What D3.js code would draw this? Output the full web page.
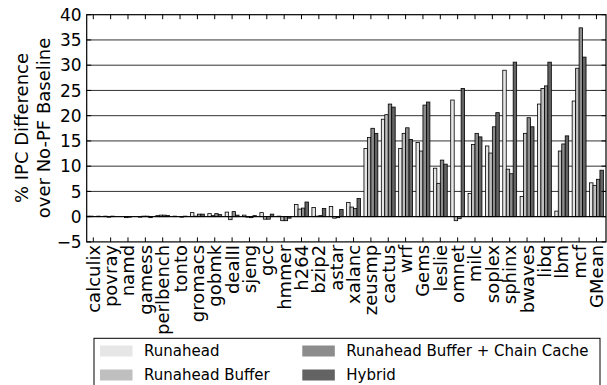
<!DOCTYPE html>
<html><head><meta charset="utf-8">
<script src="https://cdn.jsdelivr.net/npm/d3@7"></script>
<style>body{margin:0;background:#fff}svg{display:block}text{font-family:"DejaVu Sans",sans-serif}</style>
</head><body><svg id="c" width="607" height="385"></svg>
<script>
const categories = ["calculix","povray","namd","gamess","perlbench","tonto","gromacs","gobmk","dealII","sjeng","gcc","hmmer","h264","bzip2","astar","xalanc","zeusmp","cactus","wrf","Gems","leslie","omnet","milc","soplex","sphinx","bwaves","libq","lbm","mcf","GMean"];
const seriesNames = ["Runahead","Runahead Buffer","Runahead Buffer + Chain Cache","Hybrid"];
const runahead       = [0.1,0.1,0.0,-0.1,0.2,0.1,0.8,0.6,0.9,0.3,0.8,0.1,2.4,1.8,2.0,2.8,13.5,19.3,13.5,14.7,9.6,23.1,4.6,14.0,29.0,4.0,22.3,1.1,22.9,6.7];
const runaheadBuffer = [0.1,-0.1,-0.2,0.1,0.3,0.0,0.1,0.2,-0.6,-0.1,-0.5,-0.8,1.5,0.1,-0.3,1.9,15.7,20.2,16.5,13.0,6.6,-0.8,14.3,12.6,9.4,16.5,25.4,13.0,29.4,6.2];
const chainCache     = [0.0,0.1,-0.1,0.1,0.3,-0.1,0.5,0.6,1.0,-0.2,-0.5,-0.8,1.7,0.2,-0.2,1.6,17.5,22.3,17.6,22.1,11.2,-0.4,16.5,17.8,8.5,19.6,25.9,14.4,37.4,7.4];
const hybrid         = [0.1,0.0,0.0,-0.2,0.2,0.1,0.5,0.4,0.3,0.2,0.5,-0.3,2.9,1.6,1.4,3.6,16.5,21.7,15.3,22.7,10.4,25.4,15.8,20.6,30.6,17.8,30.6,16.0,31.6,9.2];
const yTicks = [-5,0,5,10,15,20,25,30,35,40];
const colors = ["#e6e6e6","#bfbfbf","#8c8c8c","#636363"];

const series = [runahead, runaheadBuffer, chainCache, hybrid];
const svg = d3.select("#c");
const L = 86.7, R = 606, T = 14.7, B = 241.9;
const x = d3.scaleLinear().domain([-0.38, 29.55]).range([L, R]);
const y = d3.scaleLinear().domain([-5, 40]).range([B, T]);
const bw = 0.2;

// gridlines
svg.append("g").selectAll("line").data(yTicks.filter(d => d > -5 && d < 40)).join("line")
  .attr("x1", L).attr("x2", R).attr("y1", d => y(d)).attr("y2", d => y(d))
  .attr("stroke", "#333").attr("stroke-width", 1);

// bars
series.forEach((vals, k) => {
  svg.append("g").selectAll("rect").data(vals).join("rect")
    .attr("x", (d, i) => x(i - 0.4 + k * bw))
    .attr("width", x(bw) - x(0))
    .attr("y", d => y(Math.max(0, d)))
    .attr("height", d => Math.abs(y(d) - y(0)))
    .attr("fill", colors[k]).attr("stroke", "#000").attr("stroke-width", 0.8);
});

// zero line over bars
svg.append("line").attr("x1", L).attr("x2", R).attr("y1", y(0)).attr("y2", y(0))
  .attr("stroke", "#000").attr("stroke-width", 1);

// frame
svg.append("rect").attr("x", L).attr("y", T).attr("width", R - L).attr("height", B - T)
  .attr("fill", "none").attr("stroke", "#000").attr("stroke-width", 1.2);

// x ticks top & bottom
const idx = d3.range(categories.length);
svg.append("g").selectAll("line").data(idx).join("line")
  .attr("x1", d => x(d)).attr("x2", d => x(d)).attr("y1", T).attr("y2", T + 4.5)
  .attr("stroke", "#000").attr("stroke-width", 1);
svg.append("g").selectAll("line").data(idx).join("line")
  .attr("x1", d => x(d)).attr("x2", d => x(d)).attr("y1", B).attr("y2", B - 4.5)
  .attr("stroke", "#000").attr("stroke-width", 1);
// y ticks left/right
svg.append("g").selectAll("line").data(yTicks).join("line")
  .attr("x1", L).attr("x2", L + 4.5).attr("y1", d => y(d)).attr("y2", d => y(d))
  .attr("stroke", "#000");
svg.append("g").selectAll("line").data(yTicks).join("line")
  .attr("x1", R).attr("x2", R - 4.5).attr("y1", d => y(d)).attr("y2", d => y(d))
  .attr("stroke", "#000");

// y tick labels
svg.append("g").selectAll("text").data(yTicks).join("text")
  .attr("x", L - 5).attr("y", d => y(d)).attr("dy", "0.36em")
  .attr("text-anchor", "end").attr("font-size", 17).attr("fill", "#000")
  .text(d => d < 0 ? "\u2212" + Math.abs(d) : d);

// x labels
svg.append("g").selectAll("text").data(categories).join("text")
  .attr("transform", (d, i) => `translate(${x(i)},${B + 3}) rotate(-90)`)
  .attr("text-anchor", "end").attr("dy", "0.36em")
  .attr("font-size", 18).attr("fill", "#000").text(d => d);

// y label
const yl = svg.append("text").attr("transform", "translate(0,128) rotate(-90)")
  .attr("text-anchor", "middle").attr("font-size", 18).attr("fill", "#000");
yl.append("tspan").attr("x", 0).attr("y", 28).text("% IPC Difference");
yl.append("tspan").attr("x", 0).attr("y", 50).text("over No-PF Baseline");

// legend
const lg = svg.append("g");
lg.append("rect").attr("x", 94).attr("y", 338.3).attr("width", 506).attr("height", 60)
  .attr("fill", "#fff").attr("stroke", "#000").attr("stroke-width", 1);
const pos = [[100, 351], [100, 375], [302.3, 351], [302.3, 375]];
seriesNames.forEach((n, k) => {
  lg.append("rect").attr("x", pos[k][0]).attr("y", pos[k][1] - 5.5).attr("width", 32.5).attr("height", 11)
    .attr("fill", colors[k]);
  lg.append("text").attr("x", pos[k][0] + 44).attr("y", pos[k][1]).attr("dy", "0.36em")
    .attr("font-size", 15).attr("fill", "#000").text(n);
});
</script></body></html>
